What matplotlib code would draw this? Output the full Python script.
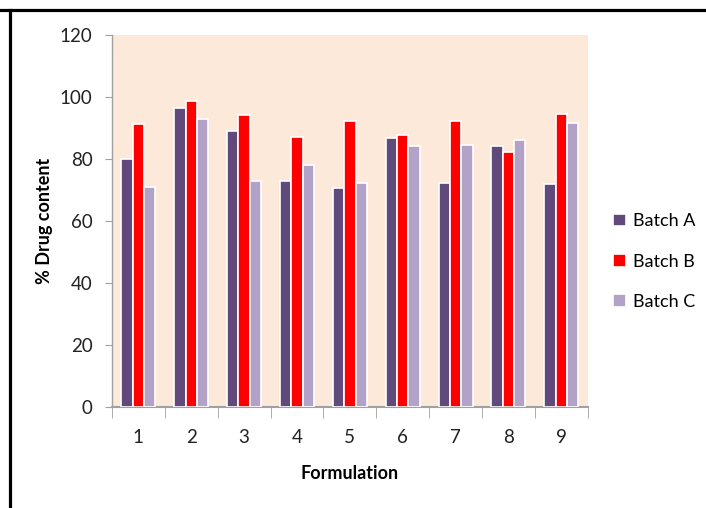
import numpy as np
import matplotlib
matplotlib.use("Agg")
import matplotlib.pyplot as plt
from matplotlib.lines import Line2D

# Data
formulations = ["1", "2", "3", "4", "5", "6", "7", "8", "9"]
batch_a = [80.0, 96.5, 89.0, 72.8, 70.5, 86.9, 72.2, 84.2, 72.0]
batch_b = [91.4, 98.7, 94.3, 87.2, 92.1, 87.8, 92.2, 82.1, 94.6]
batch_c = [70.9, 93.0, 72.8, 77.9, 72.3, 84.3, 84.6, 86.0, 91.5]
series_names = ["Batch A", "Batch B", "Batch C"]
series_colors = ["#604A7B", "#FF0000", "#B3A2C7"]

plt.rcParams['font.family'] = ['Lato', 'DejaVu Sans']

fig = plt.figure(figsize=(7.06, 5.08), dpi=100)
ax = fig.add_axes([112 / 706, 101.3 / 508, 475.7 / 706, 371.7 / 508])
ax.set_facecolor("#FDE9D9")

x = np.arange(1, len(formulations) + 1)
width = 0.215
for k, (vals, name, col) in enumerate(zip([batch_a, batch_b, batch_c], series_names, series_colors)):
    ax.bar(x + (k - 1) * width, vals, width=width, color=col, edgecolor="white",
           linewidth=1.2, label=name, zorder=3)

ax.set_xlim(0.5, 9.5)
ax.set_ylim(0, 120)
ax.set_yticks(range(0, 121, 20))
ax.set_xticks(x)
ax.set_xticklabels(formulations)
ax.set_xticks(np.arange(0.5, 9.6, 1), minor=True)

for s in ["top", "right"]:
    ax.spines[s].set_visible(False)
for s in ["left", "bottom"]:
    ax.spines[s].set_color("#A0A0A0")
    ax.spines[s].set_linewidth(1.0)
ax.spines["bottom"].set_linewidth(1.5)

ax.tick_params(axis="y", length=5, color="#A0A0A0", pad=9, labelsize=13.5, labelcolor="#222222")
ax.tick_params(axis="x", which="major", length=0, pad=16, labelsize=13.5, labelcolor="#222222")
ax.tick_params(axis="x", which="minor", length=8, color="#A0A0A0")

ax.set_ylabel("% Drug content", fontsize=13, fontweight="bold", labelpad=5)
ax.set_xlabel("Formulation", fontsize=13, fontweight="bold", labelpad=14)

ax.legend(loc="center left", bbox_to_anchor=(1.02, 0.39), frameon=False, fontsize=13,
          handlelength=0.7, handleheight=0.7, handletextpad=0.4, labelspacing=1.35)

# Black frame lines (top and left)
fig.add_artist(Line2D([0, 1], [1 - 9.5 / 508, 1 - 9.5 / 508], color="black", linewidth=2.3,
                      transform=fig.transFigure))
fig.add_artist(Line2D([9.5 / 706, 9.5 / 706], [0, 1 - 9.5 / 508], color="black", linewidth=2.3,
                      transform=fig.transFigure))

fig.savefig("out.png", dpi=100)
